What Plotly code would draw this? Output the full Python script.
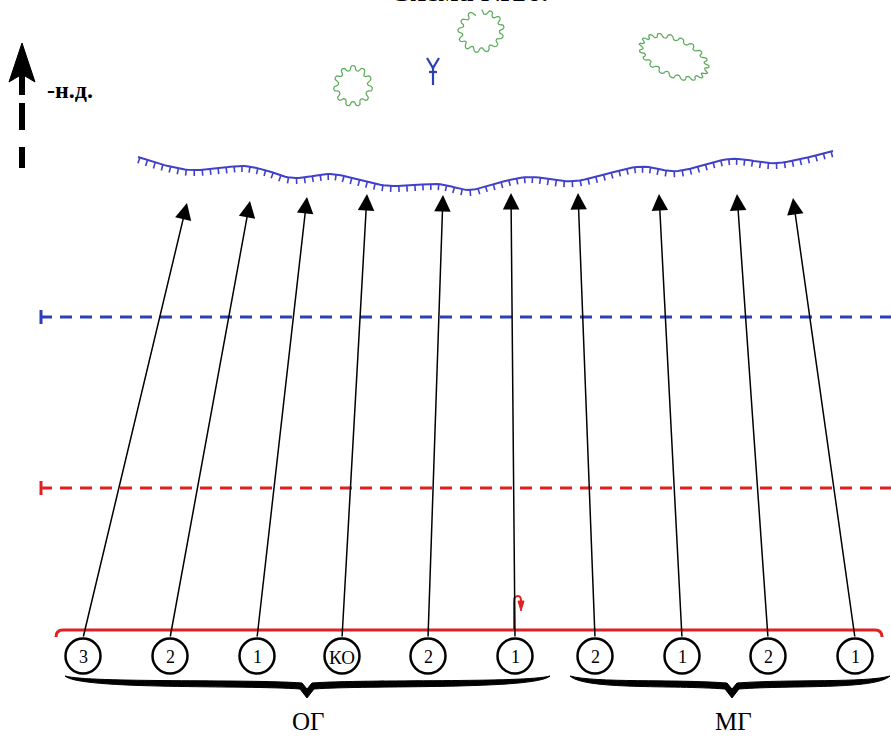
import numpy as np
import plotly.graph_objects as go

# ---------------- data ----------------
unit_labels = ["3", "2", "1", "КО", "2", "1", "2", "1", "2", "1"]
unit_x = [83, 170, 257, 342, 428, 515, 595, 682, 768, 855]
unit_y = 656
arrow_tip_x = [187, 250, 307, 367, 443, 511, 578, 659, 737, 793]
arrow_tip_y = [203, 201, 197, 194, 195, 193, 193, 194, 194, 198]

front_x = [138, 160, 190, 220, 243, 265, 293, 330, 355, 390, 437, 468, 490, 528, 575, 637, 678, 730, 778, 833]
front_y = [157, 164, 170, 168, 166, 170, 178, 174, 179, 186, 184, 190, 185, 177, 181, 167, 171, 159, 163, 151]

group_labels = ["ОГ", "МГ"]
group_label_x = [308, 733]
group_label_y = 737

line_blue_y = 317
line_red_y = 488

title_text = "Схема №16."
north_label = "-н.д."

BLUE = "#2b3fb8"
WAVE_BLUE = "#4040c8"
RED = "#e02020"
GREEN = "#5aaa5a"
SERIF = "Liberation Serif, Times New Roman, serif"

fig = go.Figure()
shapes = []
annotations = []

# ---------------- wavy front line with ticks ----------------
def catmull(xs, ys, n=12):
    P = np.column_stack([xs, ys]).astype(float)
    P = np.vstack([P[0], P, P[-1]])
    out = []
    for i in range(1, len(P) - 2):
        p0, p1, p2, p3 = P[i - 1], P[i], P[i + 1], P[i + 2]
        for t in np.linspace(0, 1, n, endpoint=False):
            t2, t3 = t * t, t * t * t
            pt = 0.5 * ((2 * p1) + (-p0 + p2) * t + (2 * p0 - 5 * p1 + 4 * p2 - p3) * t2
                        + (-p0 + 3 * p1 - 3 * p2 + p3) * t3)
            out.append(pt)
    out.append(P[-2])
    return np.array(out)

curve = catmull(front_x, front_y)
fig.add_trace(go.Scatter(x=curve[:, 0], y=curve[:, 1], mode="lines",
                         line=dict(color=WAVE_BLUE, width=2), hoverinfo="skip"))
seg = np.hypot(np.diff(curve[:, 0]), np.diff(curve[:, 1]))
s = np.concatenate([[0], np.cumsum(seg)])
tx, ty = [], []
for d in np.arange(2, s[-1], 8.0):
    xx = np.interp(d, s, curve[:, 0]); yy = np.interp(d, s, curve[:, 1])
    x2 = np.interp(d + 1, s, curve[:, 0]); y2 = np.interp(d + 1, s, curve[:, 1])
    dx, dy = x2 - xx, y2 - yy
    L = np.hypot(dx, dy)
    nx, ny = -dy / L, dx / L
    tx += [xx, xx + 6 * nx, None]
    ty += [yy, yy + 6 * ny, None]
fig.add_trace(go.Scatter(x=tx, y=ty, mode="lines", line=dict(color=WAVE_BLUE, width=1.6),
                         hoverinfo="skip"))

# ---------------- green scalloped bushes (chain of half-circles) ----------------
def bush(cx, cy, rx, ry, rot, n, gap=0.0):
    th = np.linspace(-np.pi / 2 + gap, 3 * np.pi / 2, 1500)
    amp = np.pi * (rx + ry) / 2 / (2 * n)
    u = n * th / np.pi
    k = np.floor(u)
    f = u - k
    off = np.where(k % 2 == 0, 1, -1) * amp * np.sqrt(np.clip(1 - (2 * f - 1) ** 2, 0, 1))
    x = (rx + off) * np.cos(th)
    y = (ry + off) * np.sin(th)
    c, sn = np.cos(rot), np.sin(rot)
    return cx + x * c - y * sn, cy + x * sn + y * c

for (cx, cy, rx, ry, rot, n, gap) in [(353, 86, 17, 18, 0.0, 11, 0.0),
                                      (481, 31, 21, 19, -0.3, 13, 0.3),
                                      (674, 57, 35, 18, 0.4, 19, 0.0)]:
    bx, by = bush(cx, cy, rx, ry, rot, n, gap)
    fig.add_trace(go.Scatter(x=bx, y=by, mode="lines", line=dict(color=GREEN, width=1.2),
                             hoverinfo="skip"))

# ---------------- blue antenna symbol ----------------
fig.add_trace(go.Scatter(x=[427, 433, 439, None, 433, 433, None, 429, 437],
                         y=[58, 68, 58, None, 68, 85, None, 72, 72],
                         mode="lines", line=dict(color=BLUE, width=2.2), hoverinfo="skip"))

# ---------------- dashed lines ----------------
for yv, col in [(line_blue_y, BLUE), (line_red_y, RED)]:
    fig.add_trace(go.Scatter(x=[60, 891], y=[yv, yv], mode="lines",
                             line=dict(color=col, width=3, dash="12px,8px"), hoverinfo="skip"))
    fig.add_trace(go.Scatter(x=[41, 41, None, 41, 52], y=[yv - 7, yv + 7, None, yv, yv], mode="lines",
                             line=dict(color=col, width=3), hoverinfo="skip"))

# ---------------- red start line with hooks ----------------
shapes.append(dict(type="path", xref="x", yref="y",
                   path="M 56,637 Q 56,630 63,630 L 875,630 Q 882,630 882,637",
                   line=dict(color=RED, width=3)))
# red small turning arrow
shapes.append(dict(type="path", xref="x", yref="y",
                   path="M 514,629 L 514,601 Q 514,596 518,596 Q 521,596 521,601 L 521,603",
                   line=dict(color=RED, width=2)))
shapes.append(dict(type="path", xref="x", yref="y",
                   path="M 518,601 L 524,601 L 521,611 Z", fillcolor=RED, line=dict(color=RED, width=1)))

# ---------------- attack arrows ----------------
for x0, x1, y1 in zip(unit_x, arrow_tip_x, arrow_tip_y):
    annotations.append(dict(x=x1, y=y1, ax=x0, ay=unit_y - 18, xref="x", yref="y",
                            axref="x", ayref="y", text="", showarrow=True,
                            arrowhead=2, arrowsize=2.2, arrowwidth=1.5, arrowcolor="black",
                            standoff=0, startstandoff=0))

# ---------------- unit circles ----------------
for x, lab in zip(unit_x, unit_labels):
    shapes.append(dict(type="circle", xref="x", yref="y", x0=x - 17.5, x1=x + 17.5,
                       y0=unit_y - 17.5, y1=unit_y + 17.5, line=dict(color="black", width=2.5),
                       fillcolor="white"))
    annotations.append(dict(x=x, y=unit_y + 1, xref="x", yref="y", text=lab, showarrow=False,
                            font=dict(family=SERIF, size=18 if lab != "КО" else 19, color="black")))

# ---------------- braces ----------------
def brace_path(x0, xm, x1, ytop, ytip):
    ym = ytop + 11
    return (f"M {x0},{ytop} C {x0+15},{ym+3} {xm-60},{ym-2} {xm-7},{ym+2} "
            f"L {xm},{ytip} L {xm+7},{ym+2} "
            f"C {xm+60},{ym-2} {x1-15},{ym+3} {x1},{ytop} "
            f"C {x1-25},{ym-4} {xm+60},{ym-8} {xm+5},{ym-4} "
            f"L {xm},{ym+2} L {xm-5},{ym-4} "
            f"C {xm-60},{ym-8} {x0+25},{ym-4} {x0},{ytop} Z")

shapes.append(dict(type="path", xref="x", yref="y", path=brace_path(65, 307, 550, 676, 698),
                   fillcolor="black", line=dict(color="black", width=1)))
shapes.append(dict(type="path", xref="x", yref="y", path=brace_path(570, 732, 890, 676, 698),
                   fillcolor="black", line=dict(color="black", width=1)))

for lab, x in zip(group_labels, group_label_x):
    annotations.append(dict(x=x, y=group_label_y, xref="x", yref="y", text=lab, showarrow=False,
                            yanchor="bottom",
                            font=dict(family=SERIF, size=25, color="black")))

# ---------------- north arrow ----------------
shapes.append(dict(type="path", xref="x", yref="y",
                   path="M 22,43 L 35,82 L 25,76 L 19,76 L 9,82 Z", fillcolor="black",
                   line=dict(color="black", width=1)))
for ya, yb in [(75, 95), (103, 130), (147, 168)]:
    shapes.append(dict(type="rect", xref="x", yref="y", x0=19, x1=25, y0=ya, y1=yb,
                       fillcolor="black", line=dict(width=0)))
annotations.append(dict(x=45, y=90, xref="x", yref="y", text="<b>" + north_label + "</b>",
                        showarrow=False, xanchor="left",
                        font=dict(family=SERIF, size=24, color="black")))

# ---------------- title (partly cut off at top, as in the reference) ----------------
annotations.append(dict(x=469, y=9, xref="x", yref="y", text="<b>" + title_text + "</b>",
                        showarrow=False, yanchor="bottom",
                        font=dict(family=SERIF, size=30, color="black")))

fig.update_layout(width=891, height=737, margin=dict(l=0, r=0, t=0, b=0),
                  plot_bgcolor="white", paper_bgcolor="white", showlegend=False,
                  shapes=shapes, annotations=annotations,
                  xaxis=dict(range=[0, 891], visible=False, fixedrange=True),
                  yaxis=dict(range=[737, 0], visible=False, fixedrange=True))
fig.write_html("out.html", config={"displayModeBar": False},
               post_script="document.body.style.margin='0px';document.body.style.overflow='hidden';")
